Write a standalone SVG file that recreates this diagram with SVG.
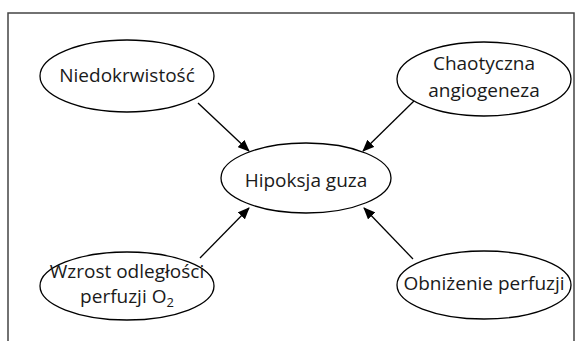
<svg xmlns="http://www.w3.org/2000/svg" width="582" height="341" viewBox="0 0 582 341">
<style>
.n{fill:#fff;stroke:#000;stroke-width:1.3}
.t{font-family:"Open Sans","Noto Sans",sans-serif;font-size:19px;fill:#1a1a1a;text-anchor:middle}
.c{stroke:#000;stroke-width:1.3;fill:none}
</style>
<defs>
<marker id="ah" markerWidth="12" markerHeight="10" refX="11" refY="5" orient="auto" markerUnits="userSpaceOnUse">
<path d="M0,0 L12,5 L0,10 Z" fill="#000"/>
</marker>
</defs>
<rect width="582" height="341" fill="#fff"/>
<path d="M8,341 V13 H574 V341" fill="none" stroke="#444" stroke-width="1.5"/>
<g id="connectors">
<line class="c" x1="198" y1="103" x2="249" y2="151" marker-end="url(#ah)"/>
<line class="c" x1="414" y1="101" x2="363" y2="151" marker-end="url(#ah)"/>
<line class="c" x1="200" y1="258" x2="249" y2="208" marker-end="url(#ah)"/>
<line class="c" x1="413" y1="259" x2="364" y2="208" marker-end="url(#ah)"/>
</g>
<g id="n1"><ellipse class="n" cx="127" cy="76" rx="87" ry="36"/><text class="t" x="127" y="82">Niedokrwistość</text></g>
<g id="n2"><ellipse class="n" cx="484" cy="79" rx="87" ry="37"/><text class="t" x="484" y="70">Chaotyczna</text><text class="t" x="484" y="97">angiogeneza</text></g>
<g id="n3"><ellipse class="n" cx="306" cy="178" rx="85" ry="35"/><text class="t" x="306" y="187">Hipoksja guza</text></g>
<g id="n4"><ellipse class="n" cx="127" cy="286" rx="87" ry="34"/><text class="t" x="127" y="278">Wzrost odległości</text><text class="t" x="127" y="303">perfuzji O<tspan font-size="13" dy="4">2</tspan></text></g>
<g id="n5"><ellipse class="n" cx="484" cy="285" rx="87" ry="34"/><text class="t" x="484" y="290">Obniżenie perfuzji</text></g>
</svg>
